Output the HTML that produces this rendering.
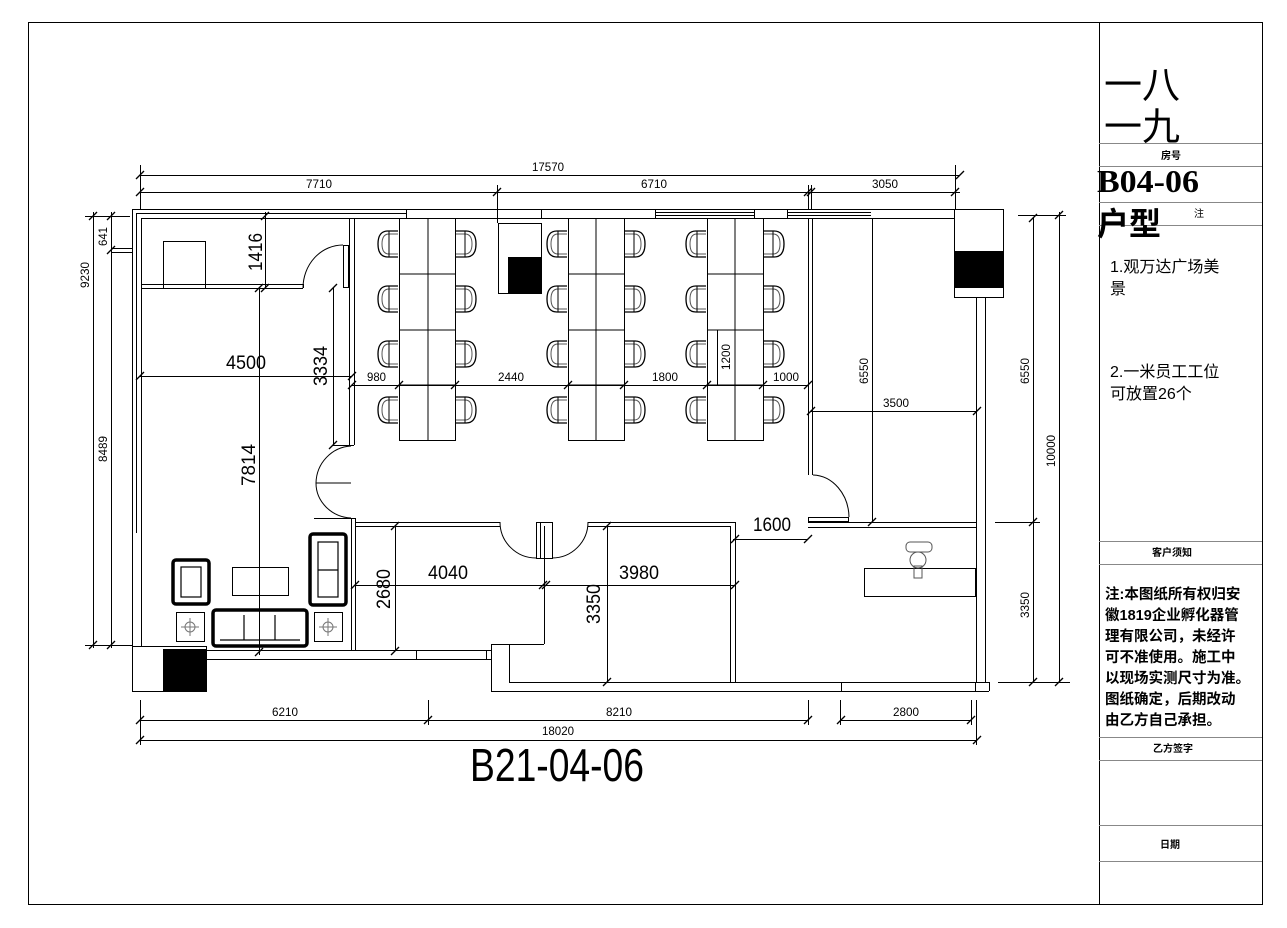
<!DOCTYPE html>
<html><head><meta charset="utf-8"><style>
html,body{margin:0;padding:0;background:#fff;}
svg{display:block;}
text{font-family:"Liberation Sans","Noto Sans CJK SC",sans-serif;fill:#000;}
.s{font-size:12px;}
.b{font-size:19px;}
.cj{font-family:"Liberation Serif","Noto Serif CJK SC","Noto Sans CJK SC",serif;}
</style></head><body>
<svg width="1287" height="928" viewBox="0 0 1287 928" xmlns="http://www.w3.org/2000/svg">
<defs>
<g id="chL"><path d="M21,0 h-10 q-10,0 -10,13 q0,13 10,13 h10" fill="none" stroke="#000" stroke-width="1.3"/><path d="M21,3 h-9 q-7,0 -7,10 q0,10 7,10 h9" fill="none" stroke="#555" stroke-width="1"/><line x1="12" y1="0" x2="12" y2="26" stroke="#000" stroke-width="1"/></g>
<g id="chR"><use href="#chL" transform="translate(22,0) scale(-1,1)"/></g>
<g id="tk"><line x1="-4" y1="4" x2="4" y2="-4" stroke="#000" stroke-width="1.3"/></g>
</defs>
<rect width="1287" height="928" fill="#fff"/>
<g fill="none" stroke="#000" stroke-width="1">
<!-- frame -->
<rect x="28.5" y="22.5" width="1234" height="882"/>
<line x1="1099.5" y1="22" x2="1099.5" y2="905"/>
<g stroke="#888"><line x1="1099" y1="143.5" x2="1262" y2="143.5"/><line x1="1099" y1="166.5" x2="1262" y2="166.5"/><line x1="1099" y1="202.5" x2="1262" y2="202.5"/><line x1="1099" y1="225.5" x2="1262" y2="225.5"/>
<line x1="1099" y1="541.5" x2="1262" y2="541.5"/><line x1="1099" y1="564.5" x2="1262" y2="564.5"/><line x1="1099" y1="737.5" x2="1262" y2="737.5"/><line x1="1099" y1="760.5" x2="1262" y2="760.5"/><line x1="1099" y1="825.5" x2="1262" y2="825.5"/><line x1="1099" y1="861.5" x2="1262" y2="861.5"/></g>

<!-- top dims -->
<line x1="140" y1="175.5" x2="960" y2="175.5"/><line x1="140" y1="192.5" x2="960" y2="192.5"/>
<line x1="140.5" y1="165" x2="140.5" y2="209"/><line x1="497.5" y1="185" x2="497.5" y2="223"/><line x1="808.5" y1="185" x2="808.5" y2="209"/><line x1="811.5" y1="185" x2="811.5" y2="209"/><line x1="955.5" y1="165" x2="955.5" y2="209"/>
<!-- outer walls -->
<line x1="132" y1="209.5" x2="406" y2="209.5"/><line x1="136" y1="213.5" x2="406" y2="213.5"/><line x1="141" y1="218.5" x2="406" y2="218.5"/><line x1="406.5" y1="209" x2="406.5" y2="218"/>
<line x1="406" y1="209.5" x2="1003" y2="209.5"/><line x1="406" y1="218.5" x2="955" y2="218.5"/>
<line x1="655" y1="212.5" x2="754" y2="212.5"/><line x1="655" y1="215.5" x2="754" y2="215.5"/><line x1="655.5" y1="209" x2="655.5" y2="218"/><line x1="754.5" y1="209" x2="754.5" y2="218"/>
<line x1="787" y1="212.5" x2="871" y2="212.5"/><line x1="787" y1="215.5" x2="871" y2="215.5"/><line x1="787.5" y1="209" x2="787.5" y2="218"/><line x1="541.5" y1="209" x2="541.5" y2="218"/>
<line x1="132.5" y1="209" x2="132.5" y2="692"/><line x1="136.5" y1="213" x2="136.5" y2="533"/><line x1="141.5" y1="218" x2="141.5" y2="646"/>
<line x1="111" y1="248.5" x2="132" y2="248.5"/><line x1="111" y1="252.5" x2="132" y2="252.5"/>
<!-- top-left room -->
<rect x="163.5" y="241.5" width="42" height="47"/>
<line x1="141" y1="284.5" x2="303" y2="284.5"/><line x1="141" y1="288.5" x2="303" y2="288.5"/><line x1="303.5" y1="284" x2="303.5" y2="288"/>
<path d="M303,288 A40,43 0 0 1 343,245"/><rect x="343.5" y="245.5" width="5" height="42"/>
<line x1="349.5" y1="218" x2="349.5" y2="445"/><line x1="354.5" y1="218" x2="354.5" y2="445"/>
<line x1="333" y1="445.5" x2="354" y2="445.5"/>
<!-- double door left -->
<path d="M351,446 A37,38 0 0 0 316,483 A37,35 0 0 0 351,518"/><line x1="316" y1="483" x2="351" y2="483"/>
<line x1="314" y1="518.5" x2="355" y2="518.5"/>
<line x1="351.5" y1="518" x2="351.5" y2="650"/><line x1="355.5" y1="518" x2="355.5" y2="650"/>
<!-- workstations -->
<g><rect x="399.5" y="218.5" width="56" height="222"/><line x1="428" y1="218" x2="428" y2="440"/><line x1="399" y1="274" x2="455" y2="274"/><line x1="399" y1="330" x2="455" y2="330"/><line x1="399" y1="385" x2="455" y2="385"/></g>
<g><rect x="568.5" y="218.5" width="56" height="222"/><line x1="596" y1="218" x2="596" y2="440"/><line x1="568" y1="274" x2="624" y2="274"/><line x1="568" y1="330" x2="624" y2="330"/><line x1="568" y1="385" x2="624" y2="385"/></g>
<g><rect x="707.5" y="218.5" width="56" height="222"/><line x1="735" y1="218" x2="735" y2="440"/><line x1="707" y1="274" x2="763" y2="274"/><line x1="707" y1="330" x2="763" y2="330"/><line x1="707" y1="385" x2="763" y2="385"/></g>
<rect x="498.5" y="223.5" width="43" height="70"/>
<!-- right portion -->
<line x1="808.5" y1="218" x2="808.5" y2="475"/><line x1="812.5" y1="218" x2="812.5" y2="475"/>
<path d="M813,475 A37,43 0 0 1 849,517"/><rect x="808.5" y="517.5" width="40" height="4"/>
<line x1="808" y1="522.5" x2="976" y2="522.5"/><line x1="808" y1="527.5" x2="976" y2="527.5"/>
<line x1="872.5" y1="218" x2="872.5" y2="522"/>
<rect x="954.5" y="209.5" width="49" height="88"/>
<line x1="976.5" y1="298" x2="976.5" y2="682"/><line x1="985.5" y1="298" x2="985.5" y2="682"/>
<rect x="864.5" y="568.5" width="111" height="28"/>
<!-- lower rooms -->
<line x1="355" y1="522.5" x2="500" y2="522.5"/><line x1="355" y1="526.5" x2="500" y2="526.5"/>
<path d="M500,522 A36,36 0 0 0 536,558"/><rect x="536.5" y="522.5" width="16" height="36"/>
<line x1="544.5" y1="526" x2="544.5" y2="644"/><line x1="540.5" y1="522" x2="540.5" y2="558"/>
<path d="M588,522 A36,36 0 0 1 552,558"/>
<line x1="588" y1="522.5" x2="735" y2="522.5"/><line x1="588" y1="526.5" x2="731" y2="526.5"/>
<line x1="730.5" y1="526" x2="730.5" y2="682"/><line x1="735.5" y1="522" x2="735.5" y2="682"/>
<!-- sofa area -->
<g stroke-width="3.5"><rect x="173" y="560" width="36" height="44" rx="3"/><rect x="310" y="534" width="36" height="71" rx="3"/><rect x="213" y="610" width="94" height="36" rx="3"/></g>
<g stroke-width="1.2"><rect x="181" y="567" width="20" height="30"/><line x1="318" y1="570" x2="338" y2="570"/><rect x="318" y="542" width="20" height="55"/><line x1="244" y1="615" x2="244" y2="640"/><line x1="275" y1="615" x2="275" y2="640"/><line x1="220" y1="640" x2="300" y2="640"/></g>
<rect x="232.5" y="567.5" width="56" height="28"/>
<rect x="176.5" y="612.5" width="28" height="29"/><rect x="314.5" y="612.5" width="28" height="29"/>
<g stroke="#777"><circle cx="190" cy="627" r="5"/><line x1="181" y1="627" x2="199" y2="627"/><line x1="190" y1="618" x2="190" y2="636"/><circle cx="328" cy="627" r="5"/><line x1="319" y1="627" x2="337" y2="627"/><line x1="328" y1="618" x2="328" y2="636"/></g>
<!-- bottom walls -->
<rect x="132.5" y="646.5" width="74" height="45"/>
<line x1="206" y1="650.5" x2="491" y2="650.5"/><line x1="206" y1="659.5" x2="491" y2="659.5"/><line x1="416.5" y1="650" x2="416.5" y2="660"/><line x1="486.5" y1="650" x2="486.5" y2="660"/>
<line x1="491.5" y1="644" x2="491.5" y2="692"/><line x1="491" y1="644.5" x2="544" y2="644.5"/><line x1="509.5" y1="644" x2="509.5" y2="682"/>
<line x1="509" y1="682.5" x2="989" y2="682.5"/><line x1="491" y1="691.5" x2="989" y2="691.5"/><line x1="841.5" y1="682" x2="841.5" y2="691"/><line x1="975.5" y1="682" x2="975.5" y2="691"/><line x1="989.5" y1="682" x2="989.5" y2="691"/>
<!-- interior dims -->
<line x1="265.5" y1="212" x2="265.5" y2="288"/>
<line x1="259.5" y1="288" x2="259.5" y2="655"/>
<line x1="333.5" y1="288" x2="333.5" y2="445"/>
<line x1="140" y1="376.5" x2="352" y2="376.5"/>
<line x1="352" y1="385.5" x2="808" y2="385.5"/>
<line x1="717.5" y1="330" x2="717.5" y2="385"/>
<line x1="811" y1="411.5" x2="977" y2="411.5"/>
<line x1="355" y1="585.5" x2="735" y2="585.5"/>
<line x1="395.5" y1="526" x2="395.5" y2="651"/>
<line x1="607.5" y1="526" x2="607.5" y2="682"/>
<line x1="733" y1="539.5" x2="808" y2="539.5"/>
<!-- left dims -->
<line x1="93.5" y1="212" x2="93.5" y2="648"/><line x1="111.5" y1="212" x2="111.5" y2="648"/>
<line x1="85" y1="216.5" x2="130" y2="216.5"/><line x1="85" y1="645.5" x2="132" y2="645.5"/>
<!-- right dims -->
<line x1="1033.5" y1="218" x2="1033.5" y2="682"/><line x1="1059.5" y1="212" x2="1059.5" y2="682"/>
<line x1="1018" y1="215.5" x2="1066" y2="215.5"/><line x1="995" y1="522.5" x2="1040" y2="522.5"/><line x1="998" y1="682.5" x2="1070" y2="682.5"/>
<!-- bottom dims -->
<line x1="140" y1="720.5" x2="808" y2="720.5"/><line x1="841" y1="720.5" x2="971" y2="720.5"/><line x1="140" y1="740.5" x2="977" y2="740.5"/>
<line x1="140.5" y1="700" x2="140.5" y2="745"/><line x1="428.5" y1="700" x2="428.5" y2="725"/><line x1="808.5" y1="700" x2="808.5" y2="725"/><line x1="840.5" y1="700" x2="840.5" y2="725"/><line x1="971.5" y1="700" x2="971.5" y2="725"/><line x1="976.5" y1="700" x2="976.5" y2="745"/>
<!-- reception chair -->
<g stroke="#555"><rect x="906" y="542" width="26" height="10" rx="4"/><circle cx="918" cy="560" r="8"/><rect x="914" y="566" width="8" height="12"/></g>
</g>
<!-- fills -->
<rect x="508" y="257" width="33" height="36" fill="#000"/>
<rect x="955" y="251" width="49" height="37" fill="#000"/>
<rect x="163" y="649" width="43" height="43" fill="#000"/>
<!-- chairs -->
<g>
<use href="#chL" x="377" y="231"/><use href="#chL" x="377" y="286"/><use href="#chL" x="377" y="341"/><use href="#chL" x="377" y="397"/>
<use href="#chR" x="455" y="231"/><use href="#chR" x="455" y="286"/><use href="#chR" x="455" y="341"/><use href="#chR" x="455" y="397"/>
<use href="#chL" x="546" y="231"/><use href="#chL" x="546" y="286"/><use href="#chL" x="546" y="341"/><use href="#chL" x="546" y="397"/>
<use href="#chR" x="624" y="231"/><use href="#chR" x="624" y="286"/><use href="#chR" x="624" y="341"/><use href="#chR" x="624" y="397"/>
<use href="#chL" x="685" y="231"/><use href="#chL" x="685" y="286"/><use href="#chL" x="685" y="341"/><use href="#chL" x="685" y="397"/>
<use href="#chR" x="763" y="231"/><use href="#chR" x="763" y="286"/><use href="#chR" x="763" y="341"/><use href="#chR" x="763" y="397"/>
</g>
<!-- ticks -->
<g>
<use href="#tk" x="140" y="175"/><use href="#tk" x="960" y="175"/><use href="#tk" x="140" y="192"/><use href="#tk" x="497" y="192"/><use href="#tk" x="808" y="192"/><use href="#tk" x="811" y="192"/><use href="#tk" x="955" y="192"/>
<use href="#tk" x="265" y="216"/><use href="#tk" x="265" y="288"/><use href="#tk" x="259" y="288"/><use href="#tk" x="259" y="652"/><use href="#tk" x="333" y="288"/><use href="#tk" x="333" y="445"/>
<use href="#tk" x="140" y="376"/><use href="#tk" x="352" y="376"/><use href="#tk" x="352" y="385"/><use href="#tk" x="399" y="385"/><use href="#tk" x="455" y="385"/><use href="#tk" x="568" y="385"/><use href="#tk" x="624" y="385"/><use href="#tk" x="707" y="385"/><use href="#tk" x="763" y="385"/><use href="#tk" x="808" y="385"/>
<use href="#tk" x="811" y="411"/><use href="#tk" x="977" y="411"/><use href="#tk" x="872" y="522"/>
<use href="#tk" x="355" y="585"/><use href="#tk" x="543" y="585"/><use href="#tk" x="546" y="585"/><use href="#tk" x="735" y="585"/>
<use href="#tk" x="395" y="526"/><use href="#tk" x="395" y="651"/><use href="#tk" x="607" y="526"/><use href="#tk" x="607" y="682"/><use href="#tk" x="735" y="539"/><use href="#tk" x="808" y="539"/>
<use href="#tk" x="93" y="216"/><use href="#tk" x="93" y="645"/><use href="#tk" x="111" y="216"/><use href="#tk" x="111" y="250"/><use href="#tk" x="111" y="645"/>
<use href="#tk" x="1033" y="218"/><use href="#tk" x="1033" y="522"/><use href="#tk" x="1033" y="682"/><use href="#tk" x="1059" y="215"/><use href="#tk" x="1059" y="682"/>
<use href="#tk" x="140" y="720"/><use href="#tk" x="428" y="720"/><use href="#tk" x="808" y="720"/><use href="#tk" x="841" y="720"/><use href="#tk" x="971" y="720"/><use href="#tk" x="140" y="740"/><use href="#tk" x="977" y="740"/>
</g>
<!-- dimension texts -->
<g class="s">
<text x="532" y="171" textLength="32" lengthAdjust="spacingAndGlyphs">17570</text>
<text x="306" y="188" textLength="26" lengthAdjust="spacingAndGlyphs">7710</text>
<text x="641" y="188" textLength="26" lengthAdjust="spacingAndGlyphs">6710</text>
<text x="872" y="188" textLength="26" lengthAdjust="spacingAndGlyphs">3050</text>
<text x="367" y="381" textLength="19" lengthAdjust="spacingAndGlyphs">980</text>
<text x="498" y="381" textLength="26" lengthAdjust="spacingAndGlyphs">2440</text>
<text x="652" y="381" textLength="26" lengthAdjust="spacingAndGlyphs">1800</text>
<text x="773" y="381" textLength="26" lengthAdjust="spacingAndGlyphs">1000</text>
<text x="883" y="407" textLength="26" lengthAdjust="spacingAndGlyphs">3500</text>
<text x="272" y="716" textLength="26" lengthAdjust="spacingAndGlyphs">6210</text>
<text x="606" y="716" textLength="26" lengthAdjust="spacingAndGlyphs">8210</text>
<text x="893" y="716" textLength="26" lengthAdjust="spacingAndGlyphs">2800</text>
<text x="542" y="735" textLength="32" lengthAdjust="spacingAndGlyphs">18020</text>
<text transform="translate(730,370) rotate(-90)" textLength="26" lengthAdjust="spacingAndGlyphs">1200</text>
<text transform="translate(868,384) rotate(-90)" textLength="26" lengthAdjust="spacingAndGlyphs">6550</text>
<text transform="translate(1029,384) rotate(-90)" textLength="26" lengthAdjust="spacingAndGlyphs">6550</text>
<text transform="translate(1055,467) rotate(-90)" textLength="32" lengthAdjust="spacingAndGlyphs">10000</text>
<text transform="translate(1029,618) rotate(-90)" textLength="26" lengthAdjust="spacingAndGlyphs">3350</text>
<text transform="translate(89,288) rotate(-90)" textLength="26" lengthAdjust="spacingAndGlyphs">9230</text>
<text transform="translate(107,246) rotate(-90)" textLength="19" lengthAdjust="spacingAndGlyphs">641</text>
<text transform="translate(107,462) rotate(-90)" textLength="26" lengthAdjust="spacingAndGlyphs">8489</text>
</g>
<g class="b">
<text x="226" y="369" textLength="40" lengthAdjust="spacingAndGlyphs">4500</text>
<text x="428" y="579" textLength="40" lengthAdjust="spacingAndGlyphs">4040</text>
<text x="619" y="579" textLength="40" lengthAdjust="spacingAndGlyphs">3980</text>
<text x="753" y="531" textLength="38" lengthAdjust="spacingAndGlyphs">1600</text>
<text transform="translate(262,271) rotate(-90)" textLength="38" lengthAdjust="spacingAndGlyphs">1416</text>
<text transform="translate(255,486) rotate(-90)" textLength="42" lengthAdjust="spacingAndGlyphs">7814</text>
<text transform="translate(327,386) rotate(-90)" textLength="40" lengthAdjust="spacingAndGlyphs">3334</text>
<text transform="translate(390,609) rotate(-90)" textLength="40" lengthAdjust="spacingAndGlyphs">2680</text>
<text transform="translate(600,624) rotate(-90)" textLength="40" lengthAdjust="spacingAndGlyphs">3350</text>
</g>
<text x="470" y="781" style="font-size:46px" textLength="174" lengthAdjust="spacingAndGlyphs">B21-04-06</text>
<!-- title block -->
<text x="1104" y="98" style="font-size:38px">一八</text>
<text x="1104" y="140" style="font-size:38px">一九</text>
<text x="1161" y="159" style="font-size:10px;font-weight:bold">房号</text>
<text x="1097" y="192" class="cj" style="font-size:32px;font-weight:bold" textLength="102" lengthAdjust="spacingAndGlyphs">B04-06</text>
<text x="1097" y="235" style="font-size:32px;font-weight:bold">户型</text>
<text x="1194" y="217" style="font-size:10px">注</text>
<g class="cj" style="font-size:16px">
<text x="1110" y="272">1.观万达广场美</text>
<text x="1110" y="294">景</text>
<text x="1110" y="377">2.一米员工工位</text>
<text x="1110" y="399">可放置26个</text>
</g>
<text x="1152" y="556" style="font-size:10px;font-weight:bold">客户须知</text>
<g class="cj" style="font-size:14.5px;font-weight:bold">
<text x="1105" y="599">注:本图纸所有权归安</text>
<text x="1105" y="620">徽1819企业孵化器管</text>
<text x="1105" y="641">理有限公司，未经许</text>
<text x="1105" y="662">可不准使用。施工中</text>
<text x="1105" y="683">以现场实测尺寸为准。</text>
<text x="1105" y="704">图纸确定，后期改动</text>
<text x="1105" y="725">由乙方自己承担。</text>
</g>
<text x="1153" y="752" style="font-size:10px;font-weight:bold">乙方签字</text>
<text x="1160" y="848" style="font-size:10px;font-weight:bold">日期</text>
</svg>
</body></html>
